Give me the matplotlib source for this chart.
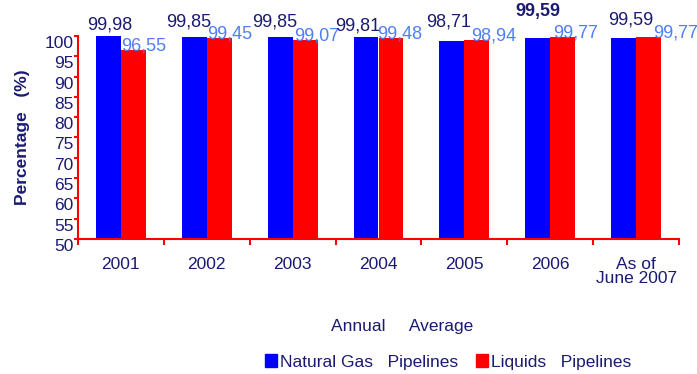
import matplotlib
matplotlib.use("Agg")
from matplotlib import pyplot as plt
from matplotlib.patches import Patch
import matplotlib.transforms as mtransforms
import numpy as np

plt.rcParams["font.family"] = ["Liberation Sans", "DejaVu Sans"]

kategorie = ["2001", "2002", "2003", "2004", "2005", "2006", "As of\nJune 2007"]
gaz = [99.98, 99.85, 99.85, 99.81, 98.71, 99.59, 99.59]
ciecze = [96.55, 99.45, 99.07, 99.48, 98.94, 99.77, 99.77]

# recznie przesuniete etykiety (px), jak w oryginale
gaz_dx = [1, -6, -6, -8, -3, 0, 7]
gaz_dy = [3, 6, 6, 2, 11, 18, 9]
ciecze_dx = [0, 0, 1, -1, 7, 3, 17]

granat = "#1a1a73"
jasny = "#4f7ff5"

fig = plt.figure(figsize=(6.97, 3.74), dpi=100)
ax = fig.add_axes([78 / 697, 1 - 239 / 374, 601 / 697, 203 / 374])

x = np.arange(len(kategorie))
w = 0.29
b1 = ax.bar(x - w / 2, gaz, w, color="#0000ff")
b2 = ax.bar(x + w / 2, ciecze, w, color="#ff0000")

ax.set_xlim(-0.5, len(kategorie) - 0.5)
ax.set_ylim(50, 100)
ax.set_yticks(np.arange(50, 101, 5))

px = fig.dpi_scale_trans
for i in range(len(kategorie)):
    off = mtransforms.ScaledTranslation(gaz_dx[i] / 100, gaz_dy[i] / 100, px)
    ax.text(x[i] - w / 2, gaz[i], f"{gaz[i]:.2f}".replace(".", ","),
            ha="center", va="bottom", fontsize=13, color=granat,
            fontweight="bold" if i == 5 else "normal",
            transform=ax.transData + off)
    off2 = mtransforms.ScaledTranslation(ciecze_dx[i] / 100, 4 / 100, px)
    ax.text(x[i], ciecze[i], f"{ciecze[i]:.2f}".replace(".", ","),
            ha="left", va="center", fontsize=13, color=jasny,
            transform=ax.transData + off2)

for s in ["top", "right"]:
    ax.spines[s].set_visible(False)
ax.spines["left"].set_color("red")
ax.spines["bottom"].set_color("red")
ax.spines["left"].set_linewidth(1.5)
ax.spines["bottom"].set_linewidth(1.5)

ax.set_xticks(x)
ax.set_xticklabels(kategorie, fontsize=12.5, color=granat, linespacing=0.9)
ax.tick_params(axis="x", which="major", length=0, pad=13)
ax.set_xticks(np.arange(-0.5, len(kategorie)), minor=True)
ax.tick_params(axis="x", which="minor", length=4, width=1.5, color="red")
ax.tick_params(axis="y", length=3, width=1.5, color="red", labelcolor=granat,
               labelsize=12.5, pad=0)
for lab in ax.get_yticklabels():
    lab.set_transform(lab.get_transform() + mtransforms.ScaledTranslation(0, -6 / 100, px))

ax.set_ylabel("Percentage   (%)", fontsize=12.5, color=granat, fontweight="bold", labelpad=11)

fig.text(402 / 697, 1 - 327 / 374, "Annual     Average", ha="center", va="center",
         fontsize=12.5, color=granat)

uchwyty = [Patch(color="#0000ff"), Patch(color="#ff0000")]
fig.legend(uchwyty, ["Natural Gas   Pipelines", "Liquids   Pipelines"],
           loc="center", bbox_to_anchor=(448 / 697, 1 - 362 / 374), ncol=2,
           frameon=False, handlelength=0.7, handleheight=0.7, handletextpad=0.2,
           columnspacing=1.0, labelcolor=granat, fontsize=12.5)

fig.savefig("out.png", dpi=100)
